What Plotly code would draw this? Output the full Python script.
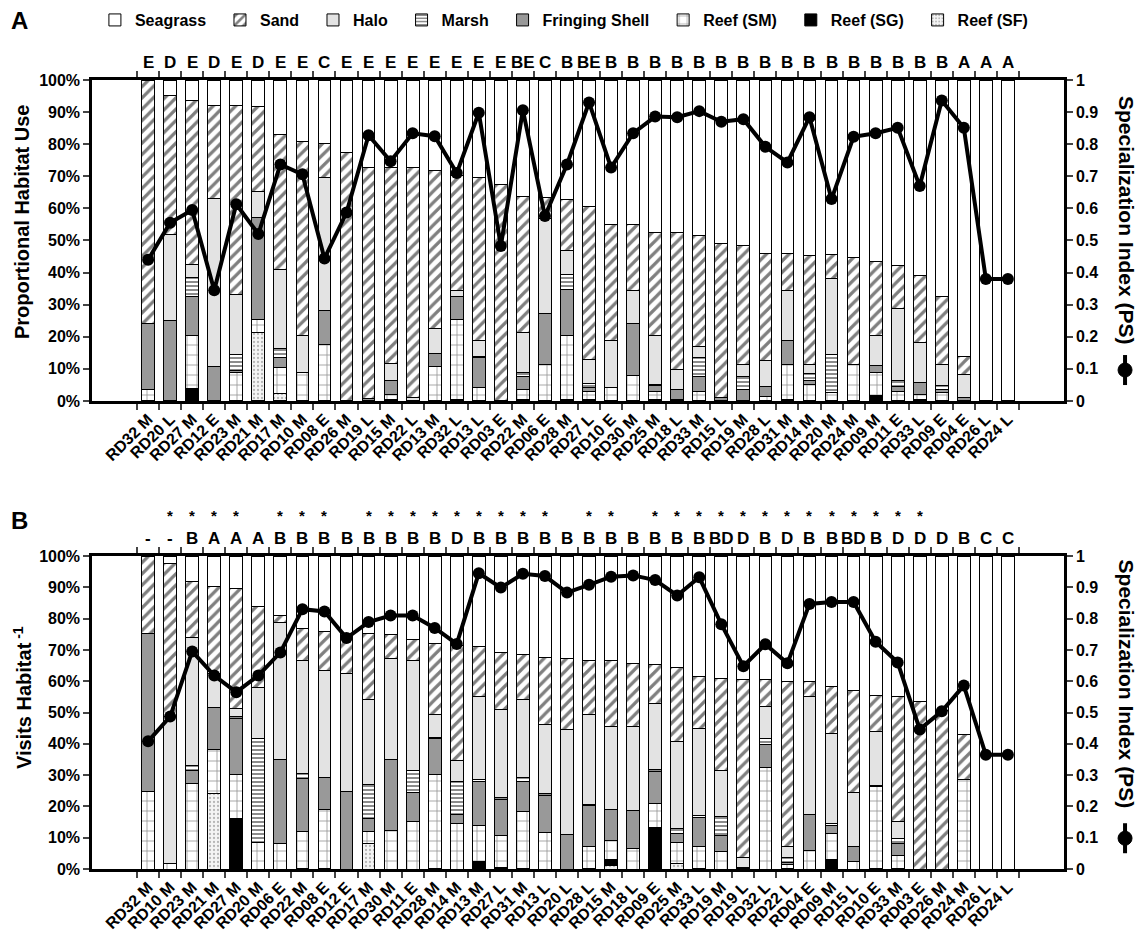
import plotly.graph_objects as go
from plotly.subplots import make_subplots

# ---------------- panel A: proportional habitat use ----------------
sites_a = ["RD32 M", "RD20 L", "RD27 M", "RD12 E", "RD23 M", "RD21 M", "RD17 M", "RD10 M",
           "RD08 E", "RD26 M", "RD19 L", "RD15 M", "RD22 L", "RD13 M", "RD32 L", "RD13 L",
           "RD03 E", "RD22 M", "RD06 E", "RD28 M", "RD27 L", "RD10 E", "RD30 M", "RD25 M",
           "RD18 L", "RD33 M", "RD15 L", "RD19 M", "RD28 L", "RD31 M", "RD14 M", "RD20 M",
           "RD24 M", "RD09 M", "RD11 E", "RD33 L", "RD09 E", "RD04 E", "RD26 L", "RD24 L"]
letters_a = ["E", "D", "E", "D", "E", "D", "E", "E", "C", "E", "E", "E", "E", "E", "E", "E",
             "E", "BE", "C", "B", "BE", "B", "B", "B", "B", "B", "B", "B", "B", "B", "B", "B",
             "B", "B", "B", "B", "B", "A", "A", "A"]
ps_a = [0.44, 0.555, 0.595, 0.345, 0.613, 0.52, 0.737, 0.706, 0.444, 0.587, 0.828, 0.747,
        0.834, 0.825, 0.71, 0.898, 0.483, 0.906, 0.576, 0.737, 0.93, 0.727, 0.834, 0.886,
        0.884, 0.903, 0.87, 0.878, 0.792, 0.743, 0.884, 0.629, 0.823, 0.834, 0.851, 0.67,
        0.936, 0.851, 0.38, 0.38]
reef_sf_a = [0, 0, 0, 0, 0, 21.4, 2.3, 0, 0, 0, 0, 0, 0, 0, 0, 0, 0, 0, 0, 0,
             0, 0, 0, 0, 0, 0, 0, 0, 0, 0, 0, 0, 0, 0, 0, 0, 0, 0, 0, 0]
reef_sg_a = [0, 0, 4, 0, 0, 0, 0, 0, 0, 0, 0, 0.5, 0, 0, 0.4, 0, 0, 0.4, 0, 0.4,
             0.6, 0, 0, 0.5, 0.5, 0, 0, 0, 0, 0.4, 0, 0, 0, 1.8, 0, 0.4, 0, 0, 0, 0]
reef_sm_a = [3.5, 0, 16.5, 0, 8.8, 4, 8, 9, 17.5, 0, 0, 1.5, 0, 10.6, 25, 4.3, 0, 3.1, 11.4, 20,
             2.4, 4.3, 7.9, 2.6, 0, 3, 0, 0, 1.5, 11, 5.2, 2.5, 11.3, 7, 3, 1.6, 2.5, 0, 0, 0]
fringing_a = [20.5, 25, 12, 10.8, 0.8, 31.8, 3.1, 0, 10.6, 0, 0.8, 4.3, 0, 4.1, 7.3, 9.1, 0, 4.2,
              15.8, 14.4, 1.3, 0, 16.3, 1.6, 3, 4.7, 1, 3.6, 2.9, 7.4, 1.3, 0, 0, 2.3, 1.5, 3.6,
              1, 1, 0, 0]
marsh_a = [0, 0, 6, 0, 4.9, 0, 2.9, 0, 0, 0, 0, 0, 0, 0, 0, 0.6, 0, 1.3, 0, 4.6,
           1, 0, 0, 0.5, 0, 5.8, 0, 3.9, 0, 0, 2, 12.1, 0, 0, 1.9, 0, 1.3, 0, 0, 0]
halo_a = [0, 27, 4, 52.4, 18.6, 8, 24.8, 11.5, 41.4, 0, 0, 5.5, 1.2, 7.8, 1.6, 4.9, 0, 12.2,
          29.7, 7.6, 7.7, 14.6, 10.2, 15.3, 6.3, 3.4, 0, 3.9, 8.2, 15.5, 3, 23.7, 0, 9.2, 22.3,
          12.5, 6.5, 7.2, 0, 0]
sand_a = [76, 43.3, 51, 28.9, 59, 26.5, 42, 60.2, 10.7, 77.5, 72, 61, 71.6, 49.4, 35.9, 50.7,
          67.4, 42.6, 6.5, 15.9, 47.6, 36.2, 20.7, 32, 42.7, 34.5, 48.1, 36.9, 33.3, 11.6, 33.9,
          7.3, 33.3, 23, 13.6, 21.1, 21.1, 5.7, 0, 0]
seagrass_a = [0, 4.7, 6.5, 7.9, 7.9, 8.3, 16.9, 19.3, 19.8, 22.5, 27.2, 27.2, 27.2, 28.1, 29.8,
              30.4, 32.6, 36.2, 36.6, 37.1, 39.4, 44.9, 44.9, 47.5, 47.5, 48.6, 50.9, 51.7, 54.1,
              54.1, 54.6, 54.4, 55.4, 56.7, 57.7, 60.8, 67.6, 86.1, 100, 100]

# ---------------- panel B: visits per habitat ----------------
sites_b = ["RD32 M", "RD10 M", "RD23 M", "RD21 M", "RD27 M", "RD20 M", "RD06 E", "RD22 M",
           "RD08 E", "RD12 E", "RD17 M", "RD30 M", "RD11 E", "RD28 M", "RD14 M", "RD13 M",
           "RD27 L", "RD31 M", "RD13 L", "RD20 L", "RD28 L", "RD15 M", "RD18 L", "RD09 E",
           "RD25 M", "RD33 L", "RD19 M", "RD19 L", "RD32 L", "RD22 L", "RD04 E", "RD09 M",
           "RD15 L", "RD10 E", "RD33 M", "RD03 E", "RD26 M", "RD24 M", "RD26 L", "RD24 L"]
letters_b = ["-", "-", "B", "A", "A", "A", "B", "B", "B", "B", "B", "B", "B", "B", "D", "B",
             "B", "B", "B", "B", "B", "B", "B", "B", "B", "B", "BD", "D", "B", "D", "B", "B",
             "BD", "B", "D", "D", "D", "B", "C", "C"]
stars_b = ["", "*", "*", "*", "*", "", "*", "*", "*", "", "*", "*", "*", "*", "*", "*",
           "*", "*", "*", "", "*", "*", "", "*", "*", "*", "*", "*", "*", "*", "*", "*",
           "*", "*", "*", "*", "", "", "", ""]
ps_b = [0.408, 0.487, 0.695, 0.618, 0.565, 0.618, 0.692, 0.83, 0.823, 0.738, 0.789, 0.81,
        0.81, 0.77, 0.719, 0.945, 0.899, 0.943, 0.936, 0.883, 0.908, 0.934, 0.938, 0.923,
        0.874, 0.932, 0.782, 0.648, 0.718, 0.657, 0.847, 0.853, 0.853, 0.726, 0.66, 0.446,
        0.504, 0.586, 0.365, 0.365]
reef_sf_b = [0, 0, 0, 24.1, 0, 0, 0, 0, 0, 0, 8, 0, 0, 0, 0, 0, 0, 0, 0, 0,
             0, 1, 0, 0, 1.6, 0, 0, 0, 0, 0, 0, 0, 0, 0, 0, 0, 0, 0, 0, 0]
reef_sg_b = [0, 0, 0, 0, 16.1, 0, 0, 0.3, 0.3, 0, 0, 0, 0, 0.3, 0, 2.4, 0.5, 0.3, 0, 0,
             0.3, 2, 0, 13.2, 0, 0.3, 0, 0.4, 0, 0.3, 0, 2.9, 0, 0.3, 0.3, 0, 0, 0, 0, 0]
reef_sm_b = [24.9, 1.8, 27.3, 14, 14, 8.4, 8.3, 11.6, 18.7, 0, 3.9, 12.4, 15.2, 29.8, 14.5, 11.6,
             10.3, 18.2, 11.8, 0, 6.8, 6.2, 6.6, 7.7, 6.8, 6.8, 5.5, 0, 32.3, 1.2, 5.8, 8.5,
             2.3, 25.9, 3.9, 0, 0, 28.7, 0, 0]
fringing_b = [50.5, 0, 4.2, 13.6, 17.9, 0, 26.7, 17, 10.1, 24.8, 4.1, 22.7, 9.4, 11.5, 3, 14,
              11.4, 9.6, 11.8, 11.1, 13.1, 9.9, 12.2, 10.4, 3, 9.4, 5.1, 0, 7.5, 0.7, 11.7, 2.6,
              4.8, 0, 4, 0, 0, 0, 0, 0]
marsh_b = [0, 0, 1.5, 0, 0.8, 33.3, 0, 1.6, 0, 0, 11.1, 0, 6.9, 0.5, 10.3, 0.5, 0.5, 1.1, 0.5, 0,
           0.5, 0, 0, 0.5, 1.4, 0.5, 6.1, 0, 1.8, 1.6, 0, 0.5, 0, 0.5, 1.6, 0, 0, 0, 0, 0]
halo_b = [0, 46.9, 41, 10.8, 2.6, 16.4, 43.8, 36.1, 34.3, 37.8, 27, 32.3, 35.1, 7.2, 6.9, 26.6,
          28.3, 24.9, 22, 33.4, 28.6, 26.5, 26.8, 21.2, 28, 27.8, 14.8, 3.2, 10.4, 3.4, 37.6,
          28.7, 17.3, 17.2, 5.3, 0, 0, 0, 0, 0]
sand_b = [24.6, 48.8, 17.8, 27.7, 38.1, 25.8, 2.2, 10.3, 12.6, 12, 21.3, 7.4, 6.6, 22.7, 36.7,
          16, 18.2, 14.3, 21.4, 22.6, 17.4, 21.1, 20, 12.4, 23.6, 16.8, 29.5, 57.1, 8.7, 52.6,
          4.8, 15.1, 32.6, 11.5, 40.1, 53.5, 50.5, 14.3, 0, 0]
seagrass_b = [0, 2.5, 8.2, 9.8, 10.5, 16.1, 19, 23.1, 24, 25.4, 24.6, 25.2, 26.8, 28, 28.6, 28.9,
              30.8, 31.6, 32.5, 32.9, 33.3, 33.3, 34.4, 34.6, 35.6, 38.4, 39, 39.3, 39.3, 40.2,
              40.1, 41.7, 43, 44.6, 44.8, 46.5, 49.5, 57, 100, 100]

y_ticks = list(range(0, 101, 10))
y_ticktext = [f"{v}%" for v in y_ticks]
ps_ticks = [i / 10 for i in range(11)]

FONT = "Liberation Sans, Arial, sans-serif"
NB = "\u00a0"

# stacking order bottom -> top, legend order is the reverse
styles = {
    "Reef (SF)": dict(color="#f4f4f4", pattern=dict(shape=".", fgcolor="#777777", bgcolor="#f4f4f4", size=4, solidity=0.25)),
    "Reef (SG)": dict(color="black"),
    "Reef (SM)": dict(color="white", pattern=dict(shape="+", fgcolor="#222222", bgcolor="white", size=10, solidity=0.15)),
    "Fringing Shell": dict(color="#999999"),
    "Marsh": dict(color="white", pattern=dict(shape="-", fgcolor="black", bgcolor="white", size=4, solidity=0.45)),
    "Halo": dict(color="#e3e3e3"),
    "Sand": dict(color="white", pattern=dict(shape="/", fgcolor="black", bgcolor="white", size=8, solidity=0.4)),
    "Seagrass": dict(color="white"),
}
rank = {"Seagrass": 1, "Sand": 2, "Halo": 3, "Marsh": 4, "Fringing Shell": 5,
        "Reef (SM)": 6, "Reef (SG)": 7, "Reef (SF)": 8}

panels = [
    (1, sites_a, ps_a, [reef_sf_a, reef_sg_a, reef_sm_a, fringing_a, marsh_a, halo_a, sand_a, seagrass_a]),
    (2, sites_b, ps_b, [reef_sf_b, reef_sg_b, reef_sm_b, fringing_b, marsh_b, halo_b, sand_b, seagrass_b]),
]

fig = make_subplots(rows=2, cols=1, specs=[[{"secondary_y": True}], [{"secondary_y": True}]])

for row, sites, ps, series in panels:
    for name, vals in zip(styles.keys(), series):
        fig.add_trace(
            go.Bar(
                name=name + NB * 2,  # a little extra room between legend entries
                x=sites,
                y=[v if v else None for v in vals],
                marker=dict(line=dict(color="black", width=1), **styles[name]),
                showlegend=(row == 1),
                legendrank=rank[name],
                hoverinfo="skip",
            ),
            row=row, col=1, secondary_y=False,
        )
    fig.add_trace(
        go.Scatter(
            x=sites, y=ps, mode="lines+markers",
            line=dict(color="black", width=4),
            marker=dict(color="black", size=12),
            showlegend=False,
        ),
        row=row, col=1, secondary_y=True,
    )

tick_font = dict(family=FONT, size=16, color="black", weight="bold")
xaxis_style = dict(
    type="category", tickson="boundaries", ticks="outside", ticklen=6, tickwidth=2,
    showline=True, linewidth=2.5, linecolor="black", mirror="ticks",
    tickangle=-45, tickfont=dict(family=FONT, size=16, color="black", weight="bold"),
    showgrid=False,
)
yleft = dict(range=[0, 100], tickvals=y_ticks, ticktext=y_ticktext,
             ticks="outside", ticklen=6, tickwidth=2, showline=True, linewidth=2.5,
             linecolor="black", tickfont=tick_font, showgrid=False, zeroline=False)
yright = dict(range=[0, 1], tickvals=ps_ticks, ticks="outside",
              ticklen=6, tickwidth=2, showline=True, linewidth=2.5, linecolor="black",
              tickfont=tick_font, showgrid=False, zeroline=False)

fig.update_layout(
    width=1137, height=943,
    margin=dict(l=92, r=73, t=80, b=74, autoexpand=False),
    plot_bgcolor="white", paper_bgcolor="white",
    barmode="stack", bargap=0.42,
    font=dict(family=FONT, color="black"),
    xaxis=dict(domain=[0, 1], **xaxis_style),
    xaxis2=dict(domain=[0, 1], **xaxis_style),
    yaxis=dict(domain=[0.5932, 1], **yleft),
    yaxis2=dict(**yright),
    yaxis3=dict(domain=[0, 0.3967], **yleft),
    yaxis4=dict(**yright),
    legend=dict(orientation="h", x=0.003, xanchor="left", y=1.076, yanchor="middle",
                traceorder="normal", font=dict(family=FONT, size=16, weight="bold"),
                itemclick=False),
)

# significance letters above bars
for xref, yref, sites, letters in [("x", "y domain", sites_a, letters_a), ("x2", "y3 domain", sites_b, letters_b)]:
    for s, t in zip(sites, letters):
        fig.add_annotation(x=s, y=1, xref=xref, yref=yref, text=t, showarrow=False,
                           xanchor="center", yanchor="bottom", yshift=6,
                           font=dict(family=FONT, size=17, weight="bold", color="black"))
for s, t in zip(sites_b, stars_b):
    if t:
        fig.add_annotation(x=s, y=1, xref="x2", yref="y3 domain", text=t, showarrow=False,
                           xanchor="center", yanchor="bottom", yshift=30,
                           font=dict(family=FONT, size=15, weight="bold", color="black"))

title_font = dict(family=FONT, size=20, weight="bold", color="black")
right_font = dict(family=FONT, size=21, weight="bold", color="black")
common = dict(xref="paper", yref="paper", showarrow=False, xanchor="center", yanchor="middle")
fig.add_annotation(x=-0.072, y=0.820, text="Proportional Habitat Use", textangle=-90,
                   font=title_font, **common)
fig.add_annotation(x=-0.072, y=0.2167, text="Visits Habitat<sup> -1</sup>", textangle=-90,
                   font=title_font, **common)
fig.add_annotation(x=1.0638, y=0.8226, text="Specialization Index (PS)", textangle=90,
                   font=right_font, **common)
fig.add_annotation(x=1.0638, y=0.235, text="Specialization Index (PS)", textangle=90,
                   font=right_font, **common)
fig.add_annotation(x=-0.0751, y=1.0748, text="A", font=dict(family=FONT, size=24, weight="bold", color="black"), **common)
fig.add_annotation(x=-0.0751, y=0.4423, text="B", font=dict(family=FONT, size=24, weight="bold", color="black"), **common)

# legend glyph for the PS line, drawn under each right-hand title
for cy in [0.6324, 0.039]:
    cx = 1.0628
    fig.add_shape(type="line", xref="paper", yref="paper", x0=cx, x1=cx,
                  y0=cy - 15 / 789, y1=cy + 15 / 789, line=dict(color="black", width=4))
    fig.add_shape(type="circle", xref="paper", yref="paper", x0=cx - 7 / 972, x1=cx + 7 / 972,
                  y0=cy - 7 / 789, y1=cy + 7 / 789, fillcolor="black", line=dict(color="black", width=1))

fig.write_html("out.html", config={"displayModeBar": False},
               post_script="document.body.style.margin='0px';")
